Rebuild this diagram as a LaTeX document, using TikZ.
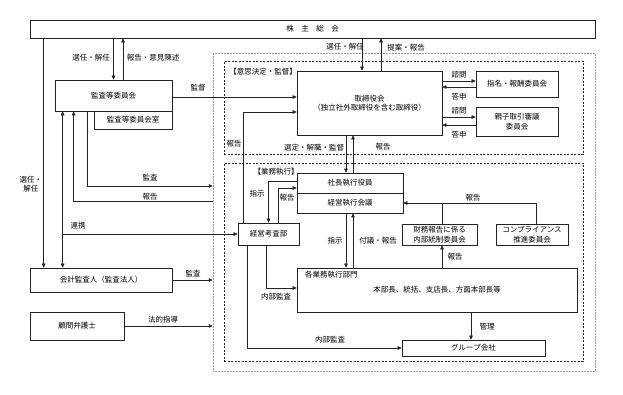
\documentclass[tikz,border=0pt]{standalone}
\usepackage{fontspec}
\setmainfont{Noto Sans CJK JP}
\usetikzlibrary{arrows.meta,positioning,calc}
\definecolor{LineGray}{RGB}{35,35,35}
\definecolor{FrameGray}{RGB}{160,160,160}

\begin{document}
\begin{tikzpicture}[x=1pt,y=-1pt,
      box/.style={draw=LineGray,line width=0.7pt,fill=white,inner sep=0pt,
        align=center,font=\fontsize{7.5}{9.5}\selectfont},
      outerframe/.style={draw=FrameGray,densely dotted,line width=0.5pt,inner sep=0pt},
      phase/.style={draw=LineGray,dash pattern=on 2pt off 1.5pt,line width=0.6pt,inner sep=0pt},
      lbl/.style={font=\fontsize{7.5}{9.5}\selectfont,inner sep=1pt,align=center},
      arr/.style={-{Triangle[length=4pt,width=3.6pt]},line width=0.6pt,draw=LineGray},
      biarr/.style={{Triangle[length=4pt,width=3.6pt]}-{Triangle[length=4pt,width=3.6pt]},
        line width=0.6pt,draw=LineGray},
      link/.style={line width=0.6pt,draw=LineGray}
    ]
      \useasboundingbox (0,0) rectangle (623,394);
      % frames
      \node[outerframe,minimum width=382pt,minimum height=318pt] (outer) at (404,212) {};
      \node[phase,minimum width=359pt,minimum height=93pt] (ishi) at (403.5,107.5) {};
      \node[phase,minimum width=359pt,minimum height=198pt] (gyoumu) at (403.5,262) {};
      % boxes
      \node[box,minimum width=565pt,minimum height=18pt] (soukai) at (312.5,29)
        {株\hspace{1em}主\hspace{1em}総\hspace{1em}会};
      \node[box,minimum width=117pt,minimum height=31pt] (kansa) at (113.5,95.5) {監査等委員会};
      \node[box,minimum width=78pt,minimum height=18pt] (kansashitsu) at (133,120) {監査等委員会室};
      \node[box,minimum width=145pt,minimum height=64pt] (torishimari) at (369.5,103)
        {取締役会\\（独立社外取締役を含む取締役）};
      \node[box,minimum width=82pt,minimum height=26pt] (shimei) at (517,84) {指名・報酬委員会};
      \node[box,minimum width=82pt,minimum height=29pt] (oyako) at (517,121.5)
        {親子取引審議\\委員会};
      \node[box,minimum width=106pt,minimum height=20pt] (shacho) at (350,183) {社長執行役員};
      \node[box,minimum width=106pt,minimum height=20pt] (keiei) at (350,203) {経営執行会議};
      \node[box,minimum width=61pt,minimum height=22pt] (kousa) at (268.5,234) {経営考査部};
      \node[box,minimum width=75pt,minimum height=21pt] (zaimu) at (439.5,234.5)
        {財務報告に係る\\内部統制委員会};
      \node[box,minimum width=72pt,minimum height=21pt] (comp) at (532,234.5)
        {コンプライアンス\\推進委員会};
      \node[box,minimum width=280pt,minimum height=44pt] (gyomu) at (437,290)
        {本部長、統括、支店長、方面本部長等};
      \node[box,minimum width=143pt,minimum height=16pt] (group) at (473.5,348) {グループ会社};
      \node[box,minimum width=142pt,minimum height=24pt] (kaikei) at (101,280) {会計監査人（監査法人）};
      \node[box,minimum width=94pt,minimum height=28pt] (bengo) at (77,326) {顧問弁護士};
      % connectors
      \draw[arr] (soukai.south -| kansa.north) -- (kansa.north);
      \draw[arr] ([xshift=9.5]kansa.north) -- ([xshift=9.5]kansa.north |- soukai.south);
      \draw[arr] ([yshift=-1.5]kansa.east) -- ([yshift=-1.5]kansa.east -| torishimari.west);
      \draw[arr] ([xshift=-7.5]torishimari.north |- soukai.south) -- ([xshift=-7.5]torishimari.north);
      \draw[arr] ([xshift=11.5]torishimari.north) -- ([xshift=11.5]torishimari.north |- soukai.south);
      \draw[arr] ([yshift=3]shimei.west -| torishimari.east) -- ([yshift=3]shimei.west);
      \draw[arr] ([yshift=-3]shimei.west) -- ([yshift=-3]shimei.west -| torishimari.east);
      \draw[arr] ([yshift=4.5]oyako.west -| torishimari.east) -- ([yshift=4.5]oyako.west);
      \draw[arr] ([yshift=-3.5]oyako.west) -- ([yshift=-3.5]oyako.west -| torishimari.east);
      \draw[arr] ([xshift=-4]shacho.north |- torishimari.south) -- ([xshift=-4]shacho.north);
      \draw[arr] ([xshift=3]shacho.north) -- ([xshift=3]shacho.north |- torishimari.south);
      \draw[arr] ([yshift=2]shacho.west) -| (kousa.north);
      \draw[arr] ([xshift=9.5]kousa.north) |- ([yshift=-5]shacho.west);
      \draw[arr] ([xshift=-25.5]kousa.north) |- ([yshift=-9]torishimari.west);
      \draw[arr] ([xshift=-4]keiei.south) -- ([xshift=-4]keiei.south |- gyomu.north);
      \draw[arr] ([xshift=3]keiei.south |- gyomu.north) -- ([xshift=3]keiei.south);
      \draw[arr] ([xshift=4]comp.north) |- (keiei.east);
      \draw[link] ([xshift=2.5]zaimu.north) -- ([xshift=2.5]zaimu.north |- keiei.east);
      \draw[arr] ([xshift=2.5]zaimu.south |- gyomu.north) -- ([xshift=2.5]zaimu.south);
      \draw[arr] ([xshift=-2.5]group.north |- gyomu.south) -- ([xshift=-2.5]group.north);
      \draw[arr] ([xshift=-21.5]kousa.south) |- (group.west);
      \draw[arr] ([xshift=-2.5]kousa.south) |- ([yshift=2]gyomu.west);
      \draw[arr] (kaikei.east) -- (kaikei.east -| outer.west);
      \draw[arr] (bengo.east) -- (bengo.east -| outer.west);
      \draw[arr] ([xshift=14]soukai.south west) -- ([xshift=14]soukai.south west |- kaikei.north);
      \draw[biarr] ([xshift=8]kansa.south west) -- ([xshift=8]kansa.south west |- kaikei.north);
      \coordinate (renkei) at ([xshift=8]kansa.south west |- kousa.west);
      \draw[arr] (renkei) -- (kousa.west);
      \draw[arr] (outer.west |- 0,201) -| ([xshift=19]kansa.south west);
      \draw[arr] ([xshift=33]kansa.south west) |- (outer.west |- 0,186);
      % labels
      \node[lbl] (lSennin) at (91,58) {選任・解任};
      \node[lbl] (lIken) at (153,58) {報告・意見陳述};
      \node[lbl] (lKantoku) at (198,88) {監督};
      \node[lbl] (lSennin2) at (345,47) {選任・解任};
      \node[lbl] (lTeian) at (406,48) {提案・報告};
      \node[lbl] (lIshi) at (263,72) {【意思決定・監督】};
      \node[lbl] (lShimon1) at (459,75) {諮問};
      \node[lbl] (lToushin1) at (459,97) {答申};
      \node[lbl] (lShimon2) at (459,111) {諮問};
      \node[lbl] (lToushin2) at (459,135) {答申};
      \node[lbl] (lHoukoku1) at (234,144) {報告};
      \node[lbl] (lSentei) at (314,148) {選定・解職・監督};
      \node[lbl] (lHoukoku2) at (383,147) {報告};
      \node[lbl] (lGyoumu) at (276,172) {【業務執行】};
      \node[lbl] (lShiji1) at (257,194) {指示};
      \node[lbl] (lHoukoku3) at (287,198) {報告};
      \node[lbl] (lHoukoku4) at (473,198) {報告};
      \node[lbl] (lShiji2) at (335,241) {指示};
      \node[lbl] (lFugi) at (378,241) {付議・報告};
      \node[lbl] (lHoukoku5) at (455,257) {報告};
      \node[lbl,anchor=west] (lBumon) at (304,275) {各業務執行部門};
      \node[lbl] (lNaibu1) at (276,297) {内部監査};
      \node[lbl] (lKanri) at (487,327) {管理};
      \node[lbl] (lNaibu2) at (330,340) {内部監査};
      \node[lbl] (lSennin3) at (31,184) {選任・\\解任};
      \node[lbl] (lKansa1) at (150,178) {監査};
      \node[lbl] (lHoukoku6) at (150,197) {報告};
      \node[lbl] (lRenkei) at (78,226) {連携};
      \node[lbl] (lKansa2) at (193,274) {監査};
      \node[lbl] (lHouteki) at (163,320) {法的指導};
    \end{tikzpicture}
\end{document}
